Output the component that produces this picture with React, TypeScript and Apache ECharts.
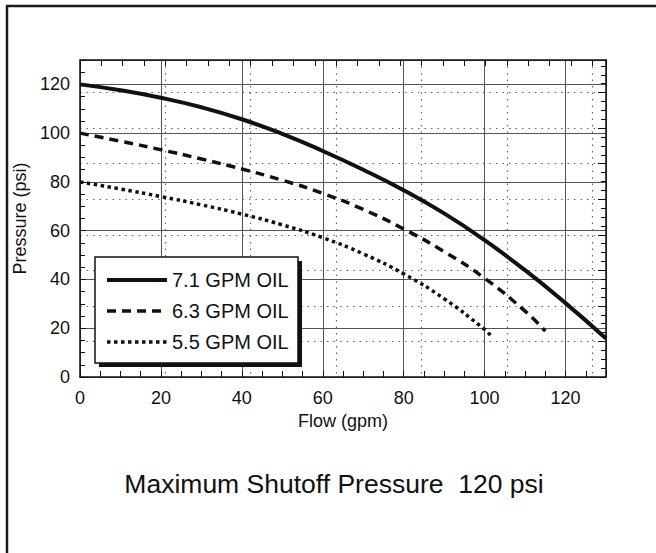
import React, { useEffect, useRef } from "react";
import * as echarts from "echarts";

const flow71 = [0, 10, 20, 30, 40, 50, 60, 70, 80, 90, 100, 110, 120, 130];
const psi71 = [120, 117.6, 114.5, 110.6, 105.7, 99.7, 92.7, 85.0, 76.6, 67.1, 56.1, 43.8, 30.3, 15.8];
const flow63 = [0, 10, 20, 30, 40, 50, 60, 70, 80, 90, 100, 110, 115];
const psi63 = [100, 96.7, 93.2, 89.4, 85.3, 80.7, 75.3, 68.7, 60.7, 51.4, 40.5, 27.0, 18.8];
const flow55 = [0, 10, 20, 30, 40, 50, 60, 70, 80, 90, 100, 101.5];
const psi55 = [80, 77.1, 74.0, 70.6, 66.8, 62.4, 57.1, 50.5, 42.3, 32.1, 19.5, 17.0];
const seriesNames = ["7.1 GPM OIL", "6.3 GPM OIL", "5.5 GPM OIL"];
const xTicks = [0, 20, 40, 60, 80, 100, 120];
const yTicks = [0, 20, 40, 60, 80, 100, 120];
const titleText = "Maximum Shutoff Pressure  120 psi";
const xName = "Flow (gpm)";
const yName = "Pressure (psi)";

const FONT = "'Liberation Sans', Arial, Helvetica, sans-serif";

export default function App() {
  const ref = useRef<HTMLDivElement>(null);
  useEffect(() => {
    if (!ref.current) return;
    const chart = echarts.init(ref.current, undefined, { renderer: "svg" });
    const pair = (xs: number[], ys: number[]) => xs.map((x, i) => [x, ys[i]]);
    const mainGrid = { show: true, lineStyle: { color: "#555", width: 1, type: "solid" as const } };
    const secGrid = { show: true, lineStyle: { color: "#666", width: 1.2, type: [1.5, 5] as any } };
    const axisLine = { show: true, onZero: false, lineStyle: { color: "#111", width: 1.5 } };
    const styles = [
      { width: 4, type: "solid" as any },
      { width: 3.5, type: [9, 6] as any },
      { width: 3.5, type: [3.5, 3.5] as any },
    ];
    const data = [pair(flow71, psi71), pair(flow63, psi63), pair(flow55, psi55)];
    chart.setOption({
      animation: false,
      backgroundColor: "#fff",
      textStyle: { fontFamily: FONT },
      grid: { left: 80, top: 60, right: 50, bottom: 176, containLabel: false },
      xAxis: [
        {
          type: "value",
          position: "bottom",
          min: 0,
          max: 130,
          interval: 20,
          name: xName,
          nameLocation: "middle",
          nameGap: 29,
          nameTextStyle: { fontSize: 18, color: "#111", fontFamily: FONT },
          axisLine,
          axisTick: { show: true, inside: true, length: 6, lineStyle: { color: "#111" } },
          minorTick: { show: true, splitNumber: 4, length: 6, lineStyle: { color: "#111" } },
          axisLabel: {
            fontSize: 18,
            color: "#111",
            margin: 12,
            fontFamily: FONT,
            formatter: (v: number) => (xTicks.includes(v) ? String(v) : ""),
          },
          splitLine: mainGrid,
        },
        {
          type: "value",
          position: "top",
          min: 0,
          max: 130,
          interval: 21.1,
          axisLine,
          axisTick: { show: true, inside: true, length: 6, lineStyle: { color: "#111" } },
          minorTick: { show: true, splitNumber: 4, length: 6, lineStyle: { color: "#111" } },
          axisLabel: { show: false },
          splitLine: secGrid,
        },
      ],
      yAxis: [
        {
          type: "value",
          position: "left",
          min: 0,
          max: 130,
          interval: 20,
          name: yName,
          nameLocation: "middle",
          nameGap: 44,
          nameTextStyle: { fontSize: 18, color: "#111", fontFamily: FONT },
          axisLine,
          axisTick: { show: true, inside: true, length: 6, lineStyle: { color: "#111" } },
          minorTick: { show: true, splitNumber: 4, length: 5, lineStyle: { color: "#111" } },
          axisLabel: {
            fontSize: 18,
            color: "#111",
            margin: 10,
            fontFamily: FONT,
            formatter: (v: number) => (yTicks.includes(v) ? String(v) : ""),
          },
          splitLine: mainGrid,
        },
        {
          type: "value",
          position: "right",
          min: 0,
          max: 130,
          interval: 14.58,
          axisLine,
          axisTick: { show: true, inside: true, length: 8, lineStyle: { color: "#111" } },
          minorTick: { show: true, splitNumber: 4, length: 5, lineStyle: { color: "#111" } },
          axisLabel: { show: false },
          splitLine: secGrid,
        },
      ],
      legend: {
        orient: "vertical",
        left: 105,
        top: 270,
        padding: 0,
        itemGap: 11,
        itemWidth: 60,
        itemHeight: 20,
        selectedMode: false,
        itemStyle: { color: "rgba(0,0,0,0)", borderWidth: 0, opacity: 0 },
        data: seriesNames.map((n, i) => ({
          name: n,
          lineStyle: { color: "#111", width: styles[i].width, type: styles[i].type },
        })),
        textStyle: { fontSize: 20, color: "#111", fontFamily: FONT, lineHeight: 20 },
        z: 10,
      },
      graphic: [
        {
          type: "rect",
          z: 5,
          shape: { x: 7, y: 6, width: 720, height: 620 },
          style: { fill: "none", stroke: "#1a1a1a", lineWidth: 2.5 },
        },
        {
          type: "rect",
          z: 8,
          shape: { x: 99, y: 261, width: 203, height: 106 },
          style: { fill: "#111", stroke: "none" },
        },
        {
          type: "rect",
          z: 9,
          shape: { x: 95, y: 257, width: 203, height: 106 },
          style: { fill: "#fff", stroke: "#111", lineWidth: 1.5 },
        },
        {
          type: "text",
          z: 10,
          x: 334,
          y: 484,
          style: {
            text: titleText,
            fontSize: 26.5,
            fontFamily: FONT,
            fill: "#111",
            textAlign: "center",
            textVerticalAlign: "middle",
          },
        },
      ],
      series: seriesNames.map((n, i) => ({
        name: n,
        type: "line",
        xAxisIndex: 0,
        yAxisIndex: 0,
        smooth: 0.5,
        symbol: "none",
        data: data[i],
        lineStyle: { color: "#111", width: styles[i].width, type: styles[i].type },
        itemStyle: { color: "#111" },
        z: 4,
      })),
    });
    return () => chart.dispose();
  }, []);
  return (
    <div
      ref={ref}
      style={{ position: "absolute", left: 0, top: 0, width: 656, height: 553, background: "#fff" }}
    />
  );
}
